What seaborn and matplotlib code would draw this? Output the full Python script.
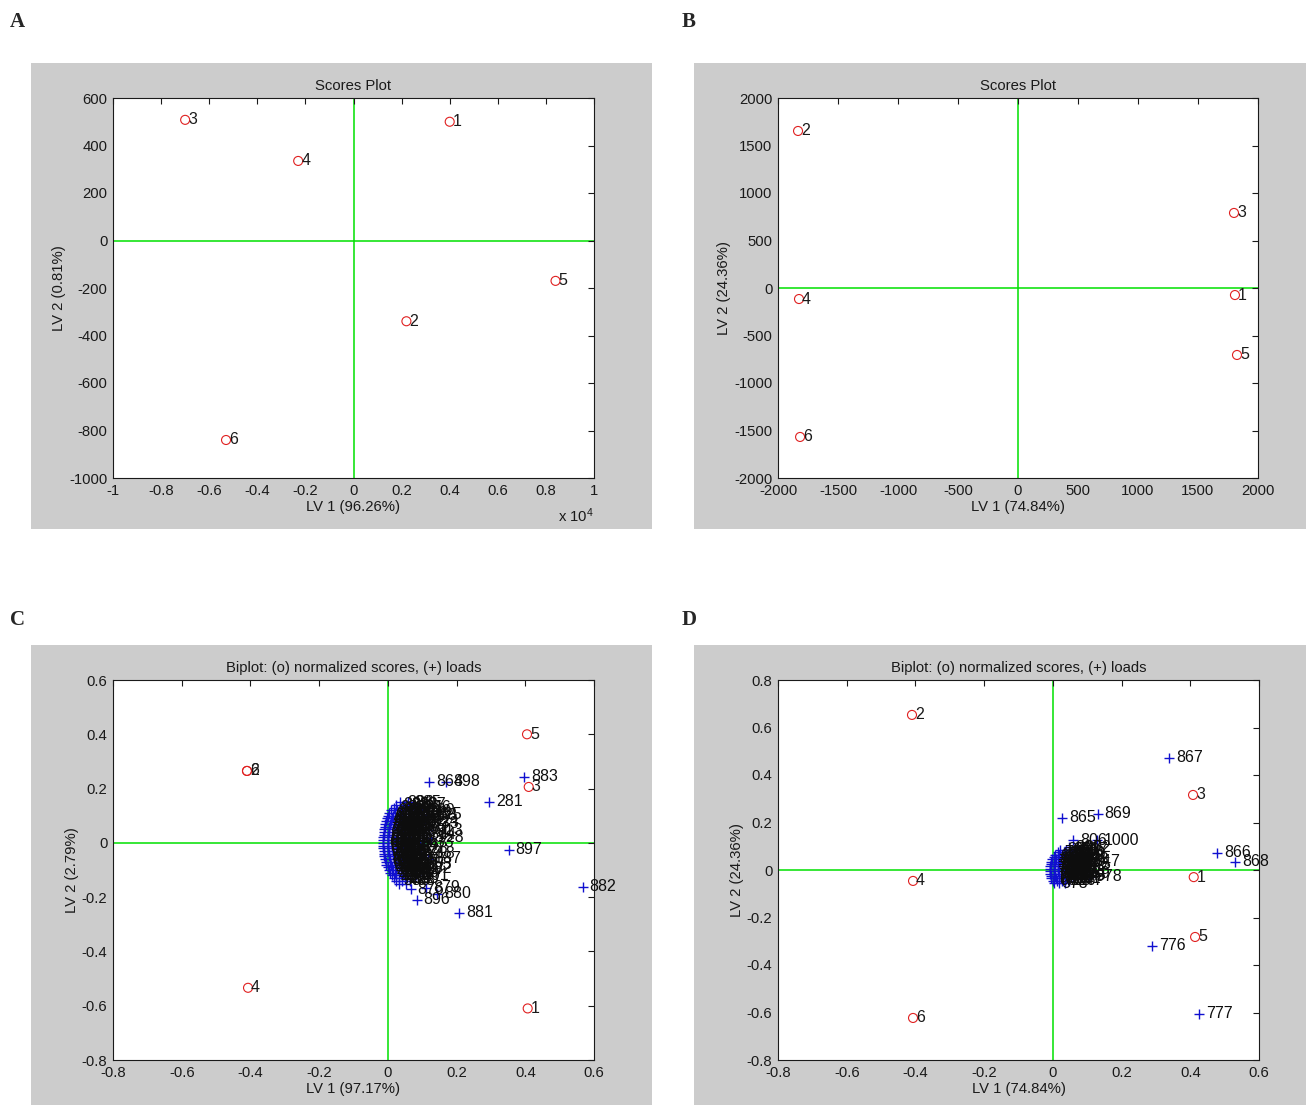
import matplotlib
matplotlib.use("Agg")
import matplotlib.pyplot as plt
from matplotlib.patches import Rectangle
from matplotlib.ticker import FuncFormatter, MultipleLocator
import seaborn as sns

# ---- data ----
# A: scores (LV1 in raw units, axis shown x 10^4)
a_x = [4000, 2200, -7000, -2300, 8400, -5300]
a_y = [500, -340, 508, 335, -170, -840]
a_lab = ['1', '2', '3', '4', '5', '6']

# B: scores
b_x = [1808, -1833, 1800, -1825, 1825, -1816]
b_y = [-74, 1653, 790, -116, -705, -1568]
b_lab = ['1', '2', '3', '4', '5', '6']

# C: normalized scores
c_sx = [0.407, -0.41, 0.41, -0.407, 0.405, -0.41]
c_sy = [-0.61, 0.265, 0.206, -0.534, 0.40, 0.265]
c_slab = ['1', '2', '3', '4', '5', '6']

# C: loads, outliers
c_lx = [0.12, 0.17, 0.396, 0.294, 0.352, 0.567, 0.207, 0.084, 0.143, 0.112, 0.066, 0.09,
        0.118, 0.109, 0.121, 0.125, 0.116]
c_ly = [0.225, 0.225, 0.243, 0.151, -0.026, -0.162, -0.258, -0.21, -0.188, -0.165, -0.17, -0.095,
        0.104, 0.078, 0.046, 0.018, -0.058]
c_llab = ['864', '898', '883', '281', '897', '882', '881', '896', '880', '879', '876', '282',
          '825', '824', '913', '928', '887']

# C: loads, dense cluster near origin (rows of equal LV2)
c_by = [0.150, 0.150,
        0.140, 0.140, 0.140,
        0.130, 0.130, 0.130, 0.130,
        0.120, 0.120, 0.120, 0.120,
        0.110, 0.110, 0.110, 0.110,
        0.100, 0.100, 0.100, 0.100, 0.100,
        0.090, 0.090, 0.090, 0.090, 0.090,
        0.080, 0.080, 0.080, 0.080, 0.080,
        0.070, 0.070, 0.070, 0.070, 0.070,
        0.060, 0.060, 0.060, 0.060, 0.060,
        0.050, 0.050, 0.050, 0.050, 0.050,
        0.040, 0.040, 0.040, 0.040, 0.040,
        0.030, 0.030, 0.030, 0.030, 0.030,
        0.020, 0.020, 0.020, 0.020, 0.020,
        0.010, 0.010, 0.010, 0.010, 0.010,
        0.000, 0.000, 0.000, 0.000, 0.000,
        -0.010, -0.010, -0.010, -0.010, -0.010,
        -0.020, -0.020, -0.020, -0.020, -0.020,
        -0.030, -0.030, -0.030, -0.030, -0.030,
        -0.040, -0.040, -0.040, -0.040, -0.040,
        -0.050, -0.050, -0.050, -0.050, -0.050,
        -0.060, -0.060, -0.060, -0.060, -0.060,
        -0.070, -0.070, -0.070, -0.070, -0.070,
        -0.080, -0.080, -0.080, -0.080, -0.080,
        -0.090, -0.090, -0.090, -0.090,
        -0.100, -0.100, -0.100, -0.100,
        -0.110, -0.110, -0.110, -0.110,
        -0.120, -0.120, -0.120, -0.120,
        -0.130, -0.130, -0.130,
        -0.140, -0.140, -0.140,
        -0.150, -0.150]
c_bx = [0.036, 0.058,
        0.024, 0.047, 0.072,
        0.017, 0.035, 0.064, 0.087,
        0.010, 0.028, 0.053, 0.098,
        0.004, 0.021, 0.042, 0.077,
        0.000, 0.015, 0.033, 0.061, 0.104,
        -0.003, 0.011, 0.027, 0.049, 0.090,
        -0.005, 0.008, 0.024, 0.041, 0.070,
        -0.007, 0.006, 0.020, 0.037, 0.109,
        -0.009, 0.004, 0.018, 0.032, 0.055,
        -0.010, 0.003, 0.016, 0.030, 0.083,
        -0.011, 0.002, 0.015, 0.028, 0.044,
        -0.012, 0.001, 0.014, 0.027, 0.101,
        -0.013, 0.000, 0.013, 0.026, 0.064,
        -0.014, 0.000, 0.012, 0.025, 0.040,
        -0.015, -0.001, 0.012, 0.024, 0.093,
        -0.014, 0.000, 0.012, 0.025, 0.052,
        -0.013, 0.001, 0.013, 0.026, 0.078,
        -0.012, 0.001, 0.014, 0.028, 0.045,
        -0.011, 0.002, 0.015, 0.030, 0.097,
        -0.010, 0.003, 0.017, 0.032, 0.059,
        -0.008, 0.005, 0.019, 0.035, 0.074,
        -0.006, 0.007, 0.021, 0.038, 0.051,
        -0.004, 0.009, 0.024, 0.042, 0.089,
        -0.001, 0.012, 0.028, 0.047,
        0.002, 0.016, 0.032, 0.068,
        0.006, 0.020, 0.037, 0.055,
        0.011, 0.025, 0.043, 0.081,
        0.017, 0.032, 0.050,
        0.024, 0.040, 0.063,
        0.033, 0.052]
c_blab = ('886 885 895 812 827 843 821 801 856 871 839 826 790 815 862 848 '
          '833 914 777 804 851 868 829 943 762 795 847 874 818 920 748 782 '
          '836 859 806 940 733 769 822 845 873 830 719 754 810 837 861 888 '
          '705 741 798 820 853 690 727 785 814 842 676 712 771 803 832 661 '
          '698 757 791 647 684 743 779 633 670 728 619 656 604 642 715 757 '
          '590 628 701 744 576 613 687 731 562 599 673 718 548 585 659 705 '
          '534 571 645 692 520 557 631 679 506 543 617 666 492 529 603 653 '
          '478 515 589 640 464 501 575 627 450 487 561 614 436 473 547 601 '
          '422 459 533 588 408').split()

# D: normalized scores
d_sx = [0.41, -0.41, 0.408, -0.407, 0.414, -0.407]
d_sy = [-0.03, 0.653, 0.316, -0.046, -0.282, -0.623]
d_slab = ['1', '2', '3', '4', '5', '6']

# D: loads, outliers
d_lx = [0.339, 0.13, 0.027, 0.478, 0.53, 0.29, 0.426, 0.06, 0.128, 0.098, 0.104]
d_ly = [0.472, 0.236, 0.219, 0.072, 0.034, -0.32, -0.606, 0.125, 0.125, 0.036, -0.028]
d_llab = ['867', '869', '865', '866', '868', '776', '777', '806', '1000', '847', '978']

# D: loads, dense cluster near origin (rows of equal LV2)
d_by = [0.095, 0.095,
        0.085, 0.085, 0.085,
        0.075, 0.075, 0.075,
        0.065, 0.065, 0.065, 0.065,
        0.055, 0.055, 0.055, 0.055,
        0.045, 0.045, 0.045, 0.045, 0.045,
        0.035, 0.035, 0.035, 0.035, 0.035,
        0.025, 0.025, 0.025, 0.025, 0.025,
        0.015, 0.015, 0.015, 0.015, 0.015,
        0.005, 0.005, 0.005, 0.005, 0.005,
        -0.005, -0.005, -0.005, -0.005, -0.005,
        -0.015, -0.015, -0.015, -0.015, -0.015,
        -0.025, -0.025, -0.025, -0.025, -0.025,
        -0.035, -0.035, -0.035, -0.035,
        -0.045, -0.045, -0.045, -0.045,
        -0.055, -0.055, -0.055]
d_bx = [0.046, 0.071,
        0.022, 0.038, 0.063,
        0.014, 0.031, 0.052,
        0.007, 0.019, 0.036, 0.058,
        0.002, 0.014, 0.029, 0.049,
        -0.002, 0.010, 0.024, 0.041, 0.066,
        -0.004, 0.007, 0.020, 0.036, 0.057,
        -0.006, 0.005, 0.018, 0.033, 0.072,
        -0.007, 0.004, 0.016, 0.031, 0.050,
        -0.008, 0.003, 0.015, 0.030, 0.064,
        -0.008, 0.003, 0.015, 0.031, 0.054,
        -0.007, 0.004, 0.017, 0.033, 0.069,
        -0.006, 0.006, 0.019, 0.036, 0.058,
        -0.004, 0.009, 0.023, 0.041,
        -0.001, 0.013, 0.028, 0.047,
        0.004, 0.019, 0.036]
d_blab = ('899 872 834 851 807 795 816 843 877 781 802 829 855 887 767 788 '
          '814 840 857 752 773 799 826 848 738 759 785 811 878 724 745 771 '
          '798 820 710 731 757 783 806 696 717 743 769 792 682 703 729 755 '
          '778 668 689 715 741 764 654 675 701 727 640 661 687 713 626 647 '
          '673').split()

# ---- style ----
sns.set_style("white")
plt.rcParams['font.family'] = ['Liberation Sans', 'DejaVu Sans']
plt.rcParams['axes.unicode_minus'] = False
plt.rcParams['mathtext.default'] = 'regular'

W, H = 1306, 1106
fig = plt.figure(figsize=(W / 100, H / 100), dpi=100)
fig.patch.set_facecolor('white')

GRAY = '#cccccc'
GREEN = '#00e000'
INK = '#1a1a1a'
FS = 10.7
LFS = 11.5


def px_rect(x0, y0, x1, y1):
    return [x0 / W, 1 - y1 / H, (x1 - x0) / W, (y1 - y0) / H]


# gray panel backgrounds
for r in [(31, 63, 652, 529), (694, 63, 1306, 529), (31, 645, 652, 1105), (694, 645, 1306, 1105)]:
    x0, b, w, h = px_rect(*r)
    fig.add_artist(Rectangle((x0, b), w, h, transform=fig.transFigure,
                             facecolor=GRAY, edgecolor='none', zorder=-10))

for letter, px, py in [('A', 10, 22), ('B', 682, 22), ('C', 10, 620), ('D', 682, 620)]:
    fig.text(px / W, 1 - py / H, letter, fontsize=15, weight='bold',
             family='Liberation Serif', va='center')


def setup(ax, xlim, ylim, xstep, ystep, title, xlabel, ylabel):
    ax.set_facecolor('white')
    ax.axhline(0, color=GREEN, lw=1.1, zorder=0.5)
    ax.axvline(0, color=GREEN, lw=1.1, zorder=0.5)
    ax.set_xlim(*xlim)
    ax.set_ylim(*ylim)
    ax.xaxis.set_major_locator(MultipleLocator(xstep))
    ax.yaxis.set_major_locator(MultipleLocator(ystep))
    fmt = FuncFormatter(lambda v, p: '%g' % round(v, 6))
    ax.xaxis.set_major_formatter(fmt)
    ax.yaxis.set_major_formatter(fmt)
    ax.tick_params(direction='in', top=True, right=True, length=4, width=0.8,
                   labelsize=FS, colors=INK, pad=4)
    for s in ax.spines.values():
        s.set_visible(True)
        s.set_color(INK)
        s.set_linewidth(0.8)
    ax.set_title(title, fontsize=FS, color=INK, pad=6)
    ax.set_xlabel(xlabel, fontsize=FS, color=INK, labelpad=2)
    ax.set_ylabel(ylabel, fontsize=FS, color=INK, labelpad=2)


def scores(ax, x, y, labs):
    sns.scatterplot(x=x, y=y, ax=ax, marker='o', s=42, color='red',
                    facecolor='none', edgecolor='#e02020', linewidth=0.8, zorder=2)
    for xi, yi, t in zip(x, y, labs):
        ax.annotate(t, (xi, yi), xytext=(2.2, 0), textcoords='offset points',
                    va='center', ha='left', fontsize=LFS, color=INK, zorder=4)


def loads(ax, x, y, labs):
    sns.scatterplot(x=x, y=y, ax=ax, marker='+', s=60, color='#1010d0',
                    linewidth=1.0, zorder=2)
    for xi, yi, t in zip(x, y, labs):
        ax.annotate(t, (xi, yi), xytext=(5, 0), textcoords='offset points',
                    va='center', ha='left', fontsize=LFS, color='#0d0d0d', zorder=4)


# A
axA = fig.add_axes(px_rect(113, 98, 594, 478))
setup(axA, (-10000, 10000), (-1000, 600), 2000, 200, 'Scores Plot', 'LV 1 (96.26%)', 'LV 2 (0.81%)')
axA.xaxis.set_major_formatter(FuncFormatter(lambda v, p: '%g' % round(v / 1e4, 6)))
scores(axA, a_x, a_y, a_lab)
axA.text(1.0, -0.1, 'x 10$^{4}$', transform=axA.transAxes, ha='right', va='center',
         fontsize=FS, color=INK)

# B
axB = fig.add_axes(px_rect(778, 98, 1258, 478))
setup(axB, (-2000, 2000), (-2000, 2000), 500, 500, 'Scores Plot', 'LV 1 (74.84%)', 'LV 2 (24.36%)')
scores(axB, b_x, b_y, b_lab)

# C
axC = fig.add_axes(px_rect(113, 680, 594, 1060))
setup(axC, (-0.8, 0.6), (-0.8, 0.6), 0.2, 0.2, 'Biplot: (o) normalized scores, (+) loads',
      'LV 1 (97.17%)', 'LV 2 (2.79%)')
scores(axC, c_sx, c_sy, c_slab)
loads(axC, c_bx, c_by, c_blab)
loads(axC, c_lx, c_ly, c_llab)

# D
axD = fig.add_axes(px_rect(778, 680, 1259, 1060))
setup(axD, (-0.8, 0.6), (-0.8, 0.8), 0.2, 0.2, 'Biplot: (o) normalized scores, (+) loads',
      'LV 1 (74.84%)', 'LV 2 (24.36%)')
scores(axD, d_sx, d_sy, d_slab)
loads(axD, d_bx, d_by, d_blab)
loads(axD, d_lx, d_ly, d_llab)

fig.savefig('out.png', dpi=100)
